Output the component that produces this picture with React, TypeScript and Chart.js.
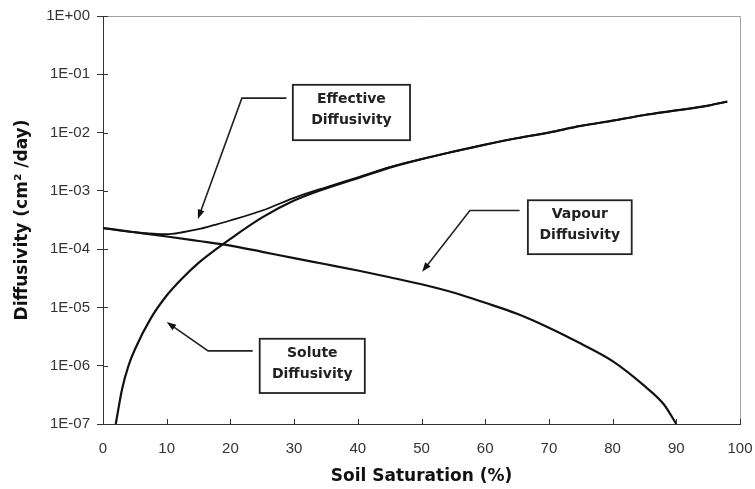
import React, { useEffect, useRef } from "react";
import { Chart, registerables } from "chart.js";

Chart.register(...registerables);

// ---- data ----
const yTickLabels = ["1E-07", "1E-06", "1E-05", "1E-04", "1E-03", "1E-02", "1E-01", "1E+00"];
const yExponents = [-7, -6, -5, -4, -3, -2, -1, 0];

const vapourX = [0, 5, 10, 15, 20, 25, 30, 35, 40, 45, 50, 55, 60, 65, 70, 75, 80, 85, 88, 90];
const vapourY = [2.3e-4, 1.95e-4, 1.65e-4, 1.38e-4, 1.15e-4, 9.0e-5, 7.0e-5, 5.5e-5, 4.3e-5, 3.3e-5, 2.5e-5, 1.8e-5, 1.2e-5, 7.8e-6, 4.5e-6, 2.4e-6, 1.2e-6, 4.5e-7, 2.2e-7, 1.0e-7];

const soluteX = [2, 3, 4, 5, 7.5, 10, 12.5, 15, 17.5, 20, 25, 30, 35, 40, 45, 50, 55, 60, 65, 70, 75, 80, 85, 90, 95, 98];
const soluteY = [1.0e-7, 4.0e-7, 1.0e-6, 1.9e-6, 6.5e-6, 1.6e-5, 3.2e-5, 5.8e-5, 9.5e-5, 1.5e-4, 3.5e-4, 6.8e-4, 1.1e-3, 1.65e-3, 2.5e-3, 3.5e-3, 4.7e-3, 6.2e-3, 8.0e-3, 1.0e-2, 1.3e-2, 1.6e-2, 2.0e-2, 2.4e-2, 2.9e-2, 3.4e-2];

const effectiveX = [0, 5, 10, 12.5, 15, 17.5, 20, 25, 30, 35, 40, 45, 50, 55, 60, 65, 70, 75, 80, 85, 90, 95, 98];
const effectiveY = [2.3e-4, 1.95e-4, 1.8e-4, 1.95e-4, 2.2e-4, 2.6e-4, 3.1e-4, 4.6e-4, 7.6e-4, 1.15e-3, 1.7e-3, 2.55e-3, 3.5e-3, 4.7e-3, 6.2e-3, 8.0e-3, 1.0e-2, 1.3e-2, 1.6e-2, 2.0e-2, 2.4e-2, 2.9e-2, 3.4e-2];

// ---- annotation callouts (data coordinates) ----
const calloutLines = [
  ["Effective", "Diffusivity"],
  ["Vapour", "Diffusivity"],
  ["Solute", "Diffusivity"],
];
const calloutBoxX = [[29.8, 48.2], [66.7, 83.0], [24.6, 41.1]];
const calloutBoxY = [[0.066, 0.0074], [6.9e-4, 8.2e-5], [2.9e-6, 3.4e-7]];
const calloutLeaderX = [[28.8, 21.8, 14.9], [65.4, 57.6, 50.1], [23.5, 16.5, 10.0]];
const calloutLeaderY = [[0.039, 0.039, 3.3e-4], [4.6e-4, 4.6e-4, 4.1e-5], [1.8e-6, 1.8e-6, 5.6e-6]];

const toPoints = (xs: number[], ys: number[]) => xs.map((x, i) => ({ x, y: ys[i] }));

const FONT = "'Liberation Sans', Arial, sans-serif";
const BOLD_FONT = "'DejaVu Sans', 'Liberation Sans', sans-serif";

const framePlugin = {
  id: "frameAndCallouts",
  afterDraw(chart: any) {
    const { ctx, chartArea, scales } = chart;
    const xs = scales.x;
    const ys = scales.y;
    ctx.save();
    // top & right frame
    ctx.strokeStyle = "#a0a0a0";
    ctx.lineWidth = 1;
    ctx.beginPath();
    ctx.moveTo(chartArea.left, chartArea.top + 0.5);
    ctx.lineTo(chartArea.right + 0.5, chartArea.top + 0.5);
    ctx.lineTo(chartArea.right + 0.5, chartArea.bottom);
    ctx.stroke();
    // inner tick marks
    ctx.strokeStyle = "#333";
    ctx.beginPath();
    xs.ticks.forEach((t: any) => {
      const px = Math.round(xs.getPixelForValue(t.value)) + 0.5;
      ctx.moveTo(px, chartArea.bottom);
      ctx.lineTo(px, chartArea.bottom - 5);
    });
    ys.ticks.forEach((t: any) => {
      const py = Math.round(ys.getPixelForValue(t.value)) + 0.5;
      ctx.moveTo(chartArea.left, py);
      ctx.lineTo(chartArea.left + 5, py);
    });
    ctx.stroke();

    // callouts
    calloutLines.forEach((lines, i) => {
      const x0 = xs.getPixelForValue(calloutBoxX[i][0]);
      const x1 = xs.getPixelForValue(calloutBoxX[i][1]);
      const y0 = ys.getPixelForValue(calloutBoxY[i][0]);
      const y1 = ys.getPixelForValue(calloutBoxY[i][1]);
      ctx.fillStyle = "#fff";
      ctx.fillRect(x0, y0, x1 - x0, y1 - y0);
      ctx.strokeStyle = "#222";
      ctx.lineWidth = 1.8;
      ctx.strokeRect(x0, y0, x1 - x0, y1 - y0);
      ctx.fillStyle = "#222";
      ctx.font = `bold 14px ${BOLD_FONT}`;
      ctx.textAlign = "center";
      ctx.textBaseline = "middle";
      const cx = (x0 + x1) / 2;
      const cy = (y0 + y1) / 2;
      ctx.fillText(lines[0], cx, cy - 13);
      ctx.fillText(lines[1], cx, cy + 8);

      const pts = calloutLeaderX[i].map((lx, k) => [xs.getPixelForValue(lx), ys.getPixelForValue(calloutLeaderY[i][k])]);
      ctx.strokeStyle = "#222";
      ctx.lineWidth = 1.6;
      ctx.beginPath();
      ctx.moveTo(pts[0][0], pts[0][1]);
      ctx.lineTo(pts[1][0], pts[1][1]);
      const [ax, ay] = pts[1];
      const [bx, by] = pts[2];
      const ang = Math.atan2(by - ay, bx - ax);
      const headLen = 10;
      ctx.lineTo(bx - Math.cos(ang) * headLen * 0.8, by - Math.sin(ang) * headLen * 0.8);
      ctx.stroke();
      ctx.fillStyle = "#111";
      ctx.beginPath();
      ctx.moveTo(bx, by);
      ctx.lineTo(bx - headLen * Math.cos(ang - 0.35), by - headLen * Math.sin(ang - 0.35));
      ctx.lineTo(bx - headLen * Math.cos(ang + 0.35), by - headLen * Math.sin(ang + 0.35));
      ctx.closePath();
      ctx.fill();
    });
    ctx.restore();
  },
};

export default function App() {
  const canvasRef = useRef<HTMLCanvasElement | null>(null);

  useEffect(() => {
    if (!canvasRef.current) return;
    const lineStyle = {
      borderColor: "#111",
      borderWidth: 2.2,
      pointRadius: 0,
      tension: 0.4,
      cubicInterpolationMode: "monotone" as const,
      fill: false,
    };
    const chart = new Chart(canvasRef.current, {
      type: "line",
      data: {
        datasets: [
          { label: "Effective Diffusivity", data: toPoints(effectiveX, effectiveY), ...lineStyle, borderWidth: 1.8 },
          { label: "Vapour Diffusivity", data: toPoints(vapourX, vapourY), ...lineStyle },
          { label: "Solute Diffusivity", data: toPoints(soluteX, soluteY), ...lineStyle },
        ],
      },
      options: {
        responsive: false,
        animation: false,
        layout: { padding: { top: 16, right: 15, left: 0, bottom: 0 } },
        plugins: { legend: { display: false }, tooltip: { enabled: false } },
        scales: {
          x: {
            type: "linear",
            min: 0,
            max: 100,
            ticks: { stepSize: 10, color: "#333", font: { family: FONT, size: 15 }, padding: 11 },
            grid: { display: false, drawOnChartArea: false, drawTicks: true, tickLength: 5, color: "#333" },
            border: { display: true, color: "#333", width: 1 },
            title: {
              display: true,
              text: "Soil Saturation (%)",
              color: "#111",
              font: { family: BOLD_FONT, size: 17, weight: "bold" },
              padding: { top: 0, bottom: 2 },
            },
            afterFit: (s: any) => { s.height = 65; s.paddingRight = 0; s.paddingLeft = 0; },
          },
          y: {
            type: "logarithmic",
            min: 1e-7,
            max: 1,
            afterBuildTicks: (s: any) => { s.ticks = yExponents.map((e) => ({ value: Math.pow(10, e) })); },
            ticks: {
              color: "#333",
              font: { family: FONT, size: 15 },
              padding: 7,
              callback: (v: any) => {
                const e = Math.round(Math.log10(Number(v)));
                const idx = yExponents.indexOf(e);
                return idx >= 0 ? yTickLabels[idx] : "";
              },
            },
            grid: { display: true, drawOnChartArea: false, drawTicks: true, tickLength: 6, color: "#333" },
            border: { display: true, color: "#333", width: 1 },
            title: {
              display: true,
              text: "Diffusivity (cm² /day)",
              color: "#111",
              font: { family: BOLD_FONT, size: 17, weight: "bold" },
              padding: { top: 12, bottom: 0 },
            },
            afterFit: (s: any) => { s.width = 103; s.paddingTop = 0; s.paddingBottom = 0; },
          },
        },
      },
      plugins: [framePlugin],
    });
    return () => chart.destroy();
  }, []);

  return (
    <div style={{ position: "fixed", left: 0, top: 0, width: 755, height: 489, background: "#fff" }}>
      <canvas ref={canvasRef} width={755} height={489} />
    </div>
  );
}
